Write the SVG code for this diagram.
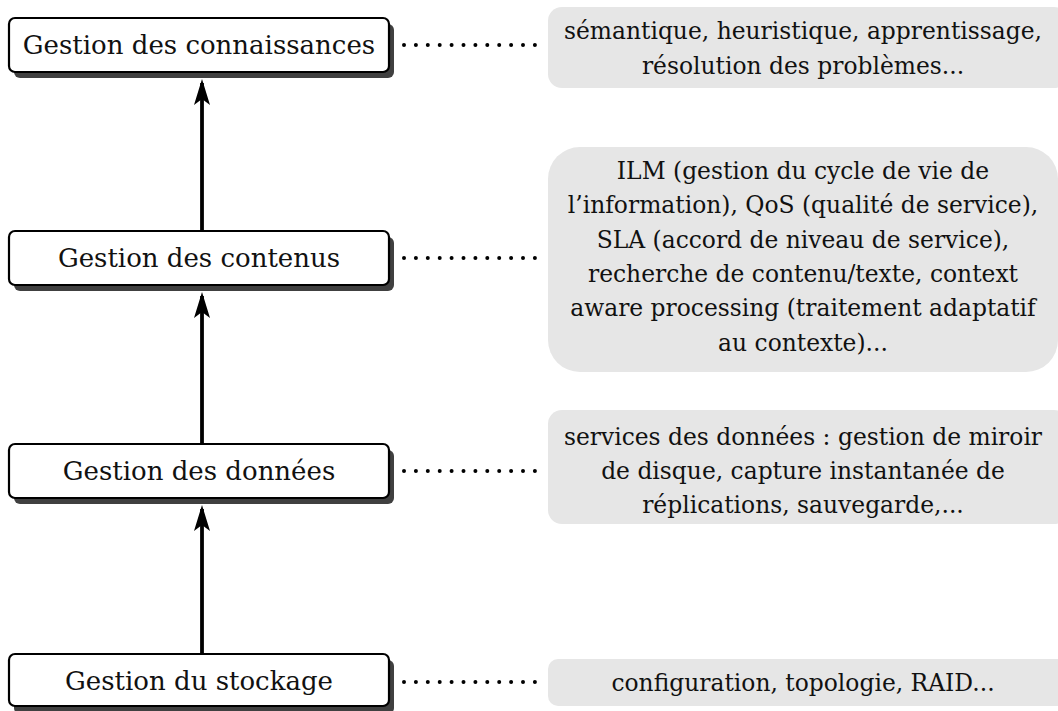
<svg xmlns="http://www.w3.org/2000/svg" width="1058" height="711" viewBox="0 0 1058 711">
<style>
.box{fill:#fff;stroke:#000;stroke-width:2.2}
.shadow{fill:#404040}
.note{fill:#e6e6e6}
.t{font-family:"DejaVu Serif","Liberation Serif",serif;font-size:23.4px;fill:#111;text-anchor:middle}
.tl{font-family:"DejaVu Serif","Liberation Serif",serif;font-size:26px;fill:#111;text-anchor:middle}
.dot{stroke:#000;stroke-width:4;stroke-linecap:round;stroke-dasharray:0 11.9;fill:none}
.arr{stroke:#000;stroke-width:3.8;fill:none}
</style>
<defs>
<marker id="ah" viewBox="0 0 26 16" refX="22" refY="8" markerWidth="26" markerHeight="16" markerUnits="userSpaceOnUse" orient="auto">
<path d="M0,0 L26,8 L0,16 L6,8 Z" fill="#000"/>
</marker>
</defs>
<g id="connectors">
<line class="arr" x1="202" y1="231" x2="202" y2="83" marker-end="url(#ah)"/>
<line class="arr" x1="202" y1="444" x2="202" y2="296" marker-end="url(#ah)"/>
<line class="arr" x1="202" y1="654" x2="202" y2="509" marker-end="url(#ah)"/>
<line class="dot" x1="404" y1="45" x2="535" y2="45"/>
<line class="dot" x1="404" y1="258" x2="535" y2="258"/>
<line class="dot" x1="404" y1="471" x2="535" y2="471"/>
<line class="dot" x1="404" y1="682" x2="535" y2="682"/>
</g>
<g id="n1">
<rect class="shadow" x="14" y="24" width="380" height="54" rx="6"/>
<rect class="box" x="9" y="18" width="380" height="54" rx="6"/>
<text class="tl" x="199" y="54">Gestion des connaissances</text>
</g>
<g id="n2">
<rect class="shadow" x="14" y="237" width="380" height="54" rx="6"/>
<rect class="box" x="9" y="231" width="380" height="54" rx="6"/>
<text class="tl" x="199" y="267">Gestion des contenus</text>
</g>
<g id="n3">
<rect class="shadow" x="14" y="450" width="380" height="54" rx="6"/>
<rect class="box" x="9" y="444" width="380" height="54" rx="6"/>
<text class="tl" x="199" y="480">Gestion des données</text>
</g>
<g id="n4">
<rect class="shadow" x="14" y="660" width="380" height="54" rx="6"/>
<rect class="box" x="9" y="654" width="380" height="52" rx="6"/>
<text class="tl" x="199" y="690">Gestion du stockage</text>
</g>
<g id="g1">
<rect class="note" x="548" y="7" width="520" height="81" rx="14"/>
<text class="t" x="803" y="39">sémantique, heuristique, apprentissage,</text>
<text class="t" x="803" y="74">résolution des problèmes...</text>
</g>
<g id="g2">
<rect class="note" x="548" y="147" width="510" height="225" rx="32"/>
<text class="t" x="803" y="179">ILM (gestion du cycle de vie de</text>
<text class="t" x="803" y="213">l’information), QoS (qualité de service),</text>
<text class="t" x="803" y="248">SLA (accord de niveau de service),</text>
<text class="t" x="803" y="282">recherche de contenu/texte, context</text>
<text class="t" x="803" y="316">aware processing (traitement adaptatif</text>
<text class="t" x="803" y="351">au contexte)...</text>
</g>
<g id="g3">
<rect class="note" x="548" y="410" width="520" height="114" rx="14"/>
<text class="t" x="803" y="445">services des données : gestion de miroir</text>
<text class="t" x="803" y="479">de disque, capture instantanée de</text>
<text class="t" x="803" y="513">réplications, sauvegarde,...</text>
</g>
<g id="g4">
<rect class="note" x="548" y="659" width="520" height="47" rx="10"/>
<text class="t" x="803" y="691">configuration, topologie, RAID...</text>
</g>
</svg>
